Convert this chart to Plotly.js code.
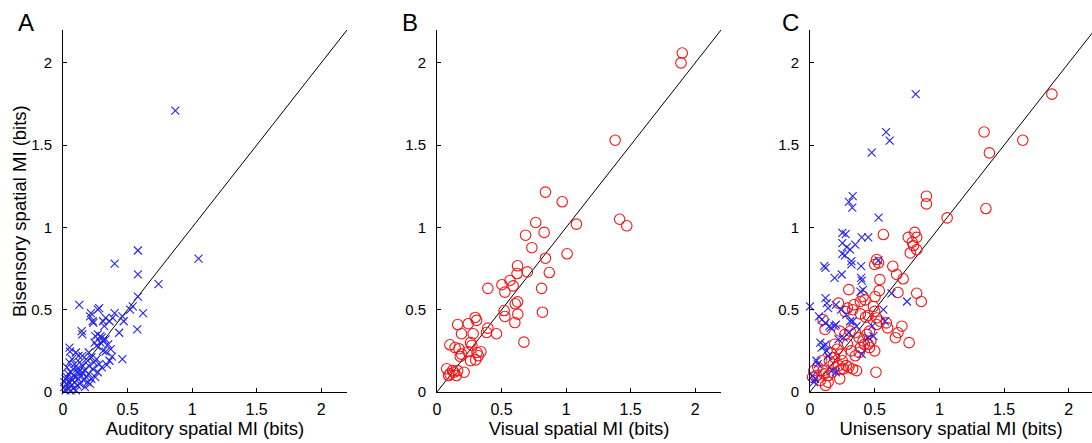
<!DOCTYPE html>
<html>
<head>
<meta charset="utf-8">
<script src="https://cdn.plot.ly/plotly-3.0.1.min.js"></script>
<style>html,body{margin:0;padding:0;background:#fff;}#chart{width:1092px;height:443px;}</style>
</head>
<body>
<div id="chart"></div>
<script>
// Panel A: auditory vs bisensory (blue x)
const aX = [0.87,1.05,0.58,0.40,0.58,0.74,0.58,0.54,0.52,0.62,0.575,0.46,0.435,
0.126,0.28,0.27,0.216,0.21,0.23,0.235,0.40,0.385,0.36,0.46,0.47,0.31,0.33,0.32,0.145,0.15,
0.25,0.27,0.29,0.31,0.29,0.245,0.26,0.30,0.33,0.35,0.37,
0.38,0.36,0.34,0.31,0.33,0.05,0.054,
0.10,0.12,0.15,0.18,0.20,0.22,0.24,0.26,0.28,0.30,0.27,0.23,0.20,0.17,0.15,0.13,0.11,0.09,0.07,0.05,0.03,0.04,0.06,0.08,0.10,0.12,0.14,0.16,0.18,0.20,0.22,0.25,0.02,0.03,0.05,0.07,0.09,0.11,0.13,0.01,0.02,0.04,0.06,0.08,0.10,0.03,0.01,0.06,0.15,0.19,0.21,0.17,0.12,0.08];
const aY = [1.71,0.81,0.86,0.78,0.715,0.655,0.58,0.52,0.50,0.48,0.38,0.20,0.36,
0.53,0.51,0.50,0.48,0.46,0.43,0.42,0.48,0.45,0.43,0.46,0.43,0.43,0.45,0.40,0.37,0.35,
0.34,0.35,0.34,0.31,0.30,0.30,0.28,0.33,0.32,0.29,0.26,
0.215,0.19,0.165,0.25,0.245,0.27,0.245,
0.24,0.22,0.22,0.20,0.24,0.21,0.18,0.20,0.17,0.15,0.12,0.14,0.16,0.13,0.16,0.18,0.14,0.17,0.20,0.18,0.15,0.11,0.12,0.10,0.09,0.08,0.10,0.07,0.09,0.11,0.08,0.09,0.08,0.05,0.06,0.04,0.06,0.04,0.05,0.03,0.01,0.02,0.01,0.02,0.01,0.09,0.06,0.08,0.12,0.06,0.05,0.03,0.12,0.14];

// Panel B: visual vs bisensory (red circles)
const bX = [1.90,1.89,1.38,1.415,1.47,0.84,0.97,1.08,0.765,0.83,0.686,0.735,1.008,0.84,0.624,0.70,0.62,0.87,0.565,0.503,0.59,0.394,0.81,0.526,0.624,0.606,0.52,0.626,0.817,0.526,0.603,0.296,0.307,0.16,0.242,0.394,0.384,0.461,0.19,0.28,0.673,0.10,0.26,0.27,0.14,0.17,0.24,0.19,0.18,0.31,0.34,0.32,0.30,0.26,0.075,0.10,0.13,0.16,0.21,0.09,0.15,0.12];
const bY = [2.06,2.00,1.53,1.05,1.01,1.215,1.156,1.02,1.03,0.97,0.953,0.877,0.84,0.813,0.767,0.73,0.72,0.726,0.678,0.652,0.645,0.63,0.63,0.607,0.548,0.536,0.495,0.473,0.485,0.459,0.422,0.453,0.435,0.41,0.415,0.388,0.362,0.354,0.354,0.354,0.303,0.287,0.30,0.283,0.27,0.263,0.245,0.23,0.216,0.24,0.245,0.22,0.195,0.19,0.141,0.11,0.12,0.13,0.12,0.10,0.10,0.13];

// Panel C: unisensory vs bisensory, visual-best (red circles) and auditory-best (blue x)
const cRX = [1.87,1.346,1.645,1.387,0.90,0.90,1.36,1.06,0.567,0.81,0.76,0.825,0.79,0.80,0.775,0.825,0.515,0.50,0.53,0.64,0.67,0.72,0.54,0.30,0.535,0.68,0.825,0.86,0.503,0.41,0.39,0.425,0.22,0.34,0.33,0.29,0.27,0.49,0.50,0.39,0.43,0.45,0.515,0.54,0.515,0.59,0.60,0.71,0.68,0.66,0.766,0.10,0.116,
0.23,0.27,0.31,0.35,0.38,0.41,0.44,0.46,0.47,0.42,0.46,0.50,0.29,0.32,0.35,0.38,0.39,0.45,0.19,0.21,0.24,0.25,0.28,0.30,0.26,0.16,0.19,0.15,0.18,0.22,0.24,0.09,0.06,0.03,0.05,0.11,0.14,0.17,0.23,0.14,0.12,0.10,0.51,0.33,0.36,0.02,0.08];
const cRY = [1.81,1.58,1.53,1.453,1.19,1.143,1.115,1.058,0.957,0.97,0.94,0.94,0.91,0.89,0.845,0.865,0.805,0.775,0.785,0.764,0.714,0.688,0.683,0.622,0.616,0.605,0.60,0.55,0.58,0.58,0.55,0.56,0.54,0.53,0.50,0.51,0.49,0.52,0.49,0.475,0.455,0.465,0.45,0.43,0.41,0.42,0.39,0.40,0.36,0.33,0.30,0.44,0.38,
0.37,0.35,0.37,0.36,0.33,0.31,0.35,0.37,0.31,0.29,0.27,0.25,0.29,0.25,0.22,0.24,0.27,0.29,0.29,0.26,0.23,0.19,0.16,0.15,0.14,0.24,0.21,0.19,0.17,0.16,0.14,0.19,0.15,0.13,0.10,0.11,0.10,0.12,0.08,0.06,0.04,0.13,0.12,0.14,0.13,0.09,0.07];
const cBX = [0.817,0.588,0.616,0.477,0.33,0.30,0.327,0.53,0.25,0.276,0.25,0.284,0.31,0.35,0.40,0.45,0.25,0.27,0.32,0.32,0.11,0.12,0.245,0.19,0.395,0.395,0.40,0.53,0.41,0.39,0.63,0.12,0.13,0.14,0.75,0.0,0.20,0.24,0.28,0.31,0.567,0.07,0.09,0.12,0.15,0.58,0.08,0.09,0.11,0.12,0.20,0.19,0.33,0.05,0.06,0.04,0.03,0.02,0.45,0.49,0.40,0.16,0.26,0.30,0.13,0.17,0.20,0.48,0.36,0.22,0.14];
const cBY = [1.81,1.58,1.528,1.455,1.19,1.155,1.12,1.06,0.967,0.96,0.905,0.88,0.865,0.895,0.94,0.94,0.84,0.83,0.795,0.775,0.765,0.755,0.714,0.693,0.765,0.694,0.677,0.80,0.62,0.61,0.60,0.57,0.54,0.51,0.55,0.52,0.53,0.50,0.47,0.43,0.50,0.46,0.44,0.42,0.40,0.43,0.30,0.27,0.28,0.29,0.41,0.40,0.43,0.19,0.17,0.08,0.06,0.10,0.33,0.34,0.23,0.39,0.33,0.36,0.25,0.13,0.12,0.40,0.40,0.32,0.22];

const diag = [0, 2.2];
const tickVals = [0, 0.5, 1, 1.5, 2];
const tickText = ['0', '0.5', '1', '1.5', '2'];
const xTitles = ['Auditory spatial MI (bits)', 'Visual spatial MI (bits)', 'Unisensory spatial MI (bits)'];
const yTitle = 'Bisensory spatial MI (bits)';
const panelLetters = ['A', 'B', 'C'];

const blue = 'rgb(35,35,235)';
const red = 'rgb(245,20,20)';
const xMarker = {symbol: 'x-thin-open', size: 8, line: {color: blue, width: 1.1}, color: blue};
const oMarker = {symbol: 'circle-open', size: 10.5, line: {color: red, width: 1.1}, color: red};
const lineStyle = {color: 'black', width: 1};

const traces = [
  {x: diag, y: diag, mode: 'lines', line: lineStyle, xaxis: 'x', yaxis: 'y', hoverinfo: 'skip'},
  {x: aX, y: aY, mode: 'markers', marker: xMarker, xaxis: 'x', yaxis: 'y', cliponaxis: false},
  {x: diag, y: diag, mode: 'lines', line: lineStyle, xaxis: 'x2', yaxis: 'y2', hoverinfo: 'skip'},
  {x: bX, y: bY, mode: 'markers', marker: oMarker, xaxis: 'x2', yaxis: 'y2', cliponaxis: false},
  {x: diag, y: diag, mode: 'lines', line: lineStyle, xaxis: 'x3', yaxis: 'y3', hoverinfo: 'skip'},
  {x: cRX, y: cRY, mode: 'markers', marker: oMarker, xaxis: 'x3', yaxis: 'y3', cliponaxis: false},
  {x: cBX, y: cBY, mode: 'markers', marker: xMarker, xaxis: 'x3', yaxis: 'y3', cliponaxis: false}
];

const W = 1092;
const font = {family: 'Liberation Sans, Arial, sans-serif', color: '#000'};
function xa(d0, d1, title, r1, anchor) {
  return {domain: [d0 / W, d1 / W], range: [0, r1], anchor: anchor, showgrid: false, zeroline: false,
    showline: true, linecolor: '#000', linewidth: 1, mirror: false,
    ticks: 'inside', ticklen: 4, tickcolor: '#000', tickvals: tickVals, ticktext: tickText,
    tickfont: Object.assign({size: 16}, font), ticklabelstandoff: 3,
    title: {text: title, font: Object.assign({size: 18.5}, font), standoff: 3}};
}
function ya(anchor) {
  return {domain: [0, 1], range: [0, 2.2], anchor: anchor, showgrid: false, zeroline: false,
    showline: true, linecolor: '#000', linewidth: 1, mirror: false,
    ticks: 'inside', ticklen: 4, tickcolor: '#000', tickvals: tickVals, ticktext: tickText,
    tickfont: Object.assign({size: 15}, font), ticklabelstandoff: 7,
    title: {text: ''}};
}

const layout = {
  width: 1092, height: 443, showlegend: false,
  paper_bgcolor: '#fff', plot_bgcolor: '#fff',
  margin: {l: 0, r: 0, t: 30, b: 51},
  xaxis: xa(63, 347, xTitles[0], 2.2, 'y'),
  yaxis: ya('x'),
  xaxis2: xa(437, 721, xTitles[1], 2.2, 'y2'),
  yaxis2: ya('x2'),
  xaxis3: xa(810, 1092, xTitles[2], 2.18, 'y3'),
  yaxis3: ya('x3'),
  annotations: [
    {text: yTitle, textangle: -90, x: 19 / W, y: 0.5, xref: 'paper', yref: 'paper', showarrow: false, xanchor: 'center', yanchor: 'middle', font: Object.assign({size: 18.5}, font)},
    {text: panelLetters[0], x: 26 / W, y: 1.02, xref: 'paper', yref: 'paper', showarrow: false, xanchor: 'center', yanchor: 'middle', font: Object.assign({size: 24}, font)},
    {text: panelLetters[1], x: 410 / W, y: 1.02, xref: 'paper', yref: 'paper', showarrow: false, xanchor: 'center', yanchor: 'middle', font: Object.assign({size: 24}, font)},
    {text: panelLetters[2], x: 790 / W, y: 1.02, xref: 'paper', yref: 'paper', showarrow: false, xanchor: 'center', yanchor: 'middle', font: Object.assign({size: 24}, font)}
  ]
};

Plotly.newPlot('chart', traces, layout, {staticPlot: true, displayModeBar: false});
</script>
</body>
</html>
